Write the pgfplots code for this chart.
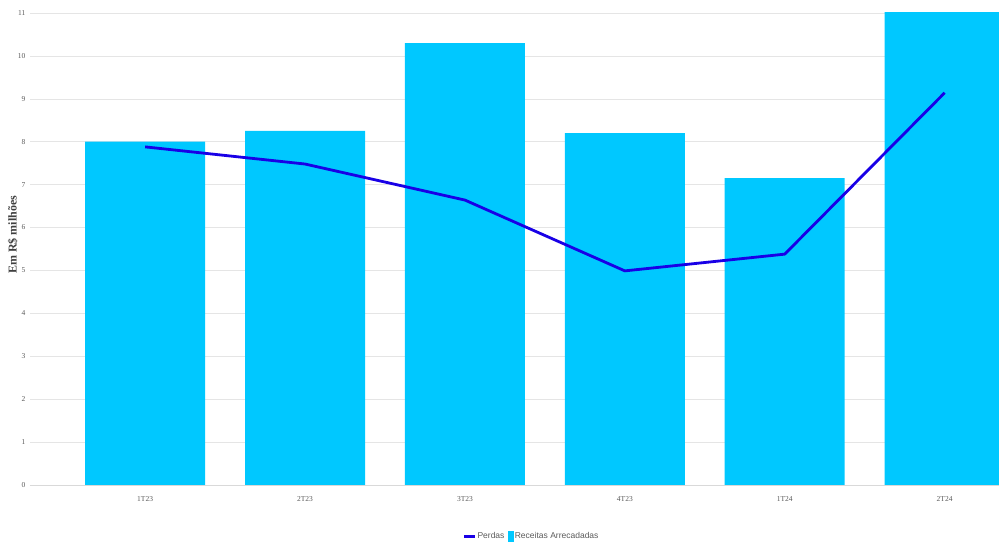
\documentclass[border=0pt]{standalone}
\usepackage{pgfplots}
\pgfplotsset{compat=1.18}
\usepackage{fontspec}
\setmainfont{Liberation Serif}
\setsansfont{Liberation Sans}
\definecolor{barc}{RGB}{0,200,255}
\definecolor{linec}{RGB}{25,0,230}
\definecolor{tickc}{RGB}{90,90,90}
\begin{document}
\begin{tikzpicture}
\begin{axis}[
  at={(0,0)}, anchor=south west,
  scale only axis,
  width=969pt, height=472pt,
  xmin=-0.72, xmax=5.34,
  ymin=0, ymax=11,
  ytick={0,1,...,11},
  xtick={0,1,2,3,4,5},
  xticklabels={1T23,2T23,3T23,4T23,1T24,2T24},
  ymajorgrids,
  grid style={gray!20, line width=0.6pt},
  axis x line*=bottom,
  axis y line*=left,
  y axis line style={draw=none},
  x axis line style={gray!30, line width=0.8pt},
  major tick length=0pt,
  tick label style={font=\fontsize{7.5}{8}\selectfont, text=tickc},
  /pgf/number format/assume math mode=true,
  yticklabel style={xshift=-1pt},
  xticklabel style={yshift=-8pt},
  ylabel={\textbf{Em R\$ milhões}},
  ylabel style={font=\fontsize{12}{13}\selectfont, text=black!75, at={(axis description cs:0,0.53)}, yshift=9pt},
  legend style={at={(0.5,0)}, anchor=north, yshift=-45pt, xshift=17pt, draw=none, fill=none,
    font=\sffamily\fontsize{8.5}{9}\selectfont, text=tickc,
    legend columns=2, /tikz/every even column/.append style={column sep=2pt},
    /tikz/every odd column/.append style={column sep=-1pt},
    inner sep=0pt},
  clip=true,
]
\addplot[ybar, bar width=120pt, fill=barc, draw=none, forget plot] coordinates {
  (0,8.0) (1,8.25) (2,10.3) (3,8.2) (4,7.15) (5,11.05)};
\addplot[linec, line width=2.8pt, line join=round, mark=none, forget plot] coordinates {
  (0,7.88) (1,7.48) (2,6.64) (3,4.99) (4,5.38) (5,9.14)};
\addlegendimage{legend image code/.code={\draw[linec, line width=3pt] (0pt,0pt) -- (11pt,0pt);}}
\addlegendentry{Perdas}
\addlegendimage{legend image code/.code={\fill[barc] (3pt,-5pt) rectangle (8pt,5pt);}}
\addlegendentry{Receitas Arrecadadas}
\end{axis}
\pgfresetboundingbox
\useasboundingbox ([xshift=-30pt,yshift=-63pt]current axis.south west) rectangle ([yshift=13pt]current axis.north east);
\end{tikzpicture}
\end{document}
